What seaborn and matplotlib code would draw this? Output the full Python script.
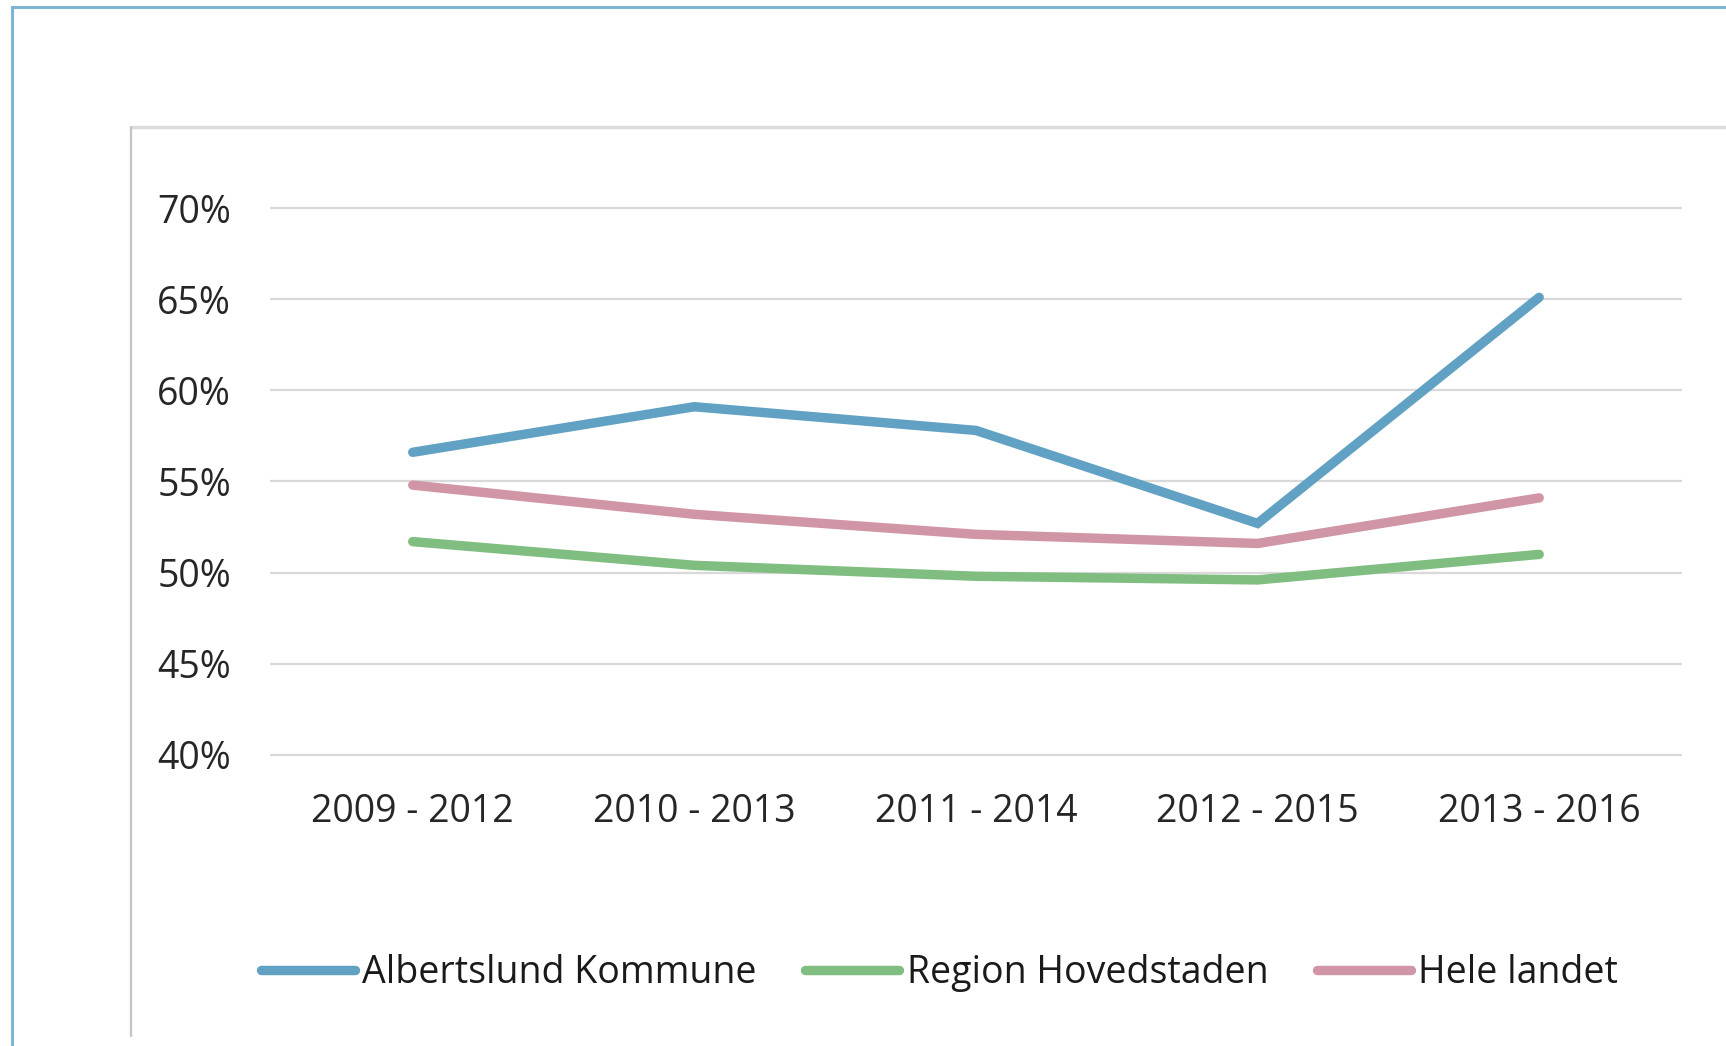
import pandas as pd
import seaborn as sns
import matplotlib.pyplot as plt
from matplotlib.patches import Rectangle
from matplotlib.ticker import PercentFormatter

# Data
perioder = ["2009 - 2012", "2010 - 2013", "2011 - 2014", "2012 - 2015", "2013 - 2016"]
albertslund = [56.6, 59.1, 57.8, 52.7, 65.1]
region_hovedstaden = [51.7, 50.4, 49.8, 49.6, 51.0]
hele_landet = [54.8, 53.2, 52.1, 51.6, 54.1]

serier = ["Albertslund Kommune", "Region Hovedstaden", "Hele landet"]
farver = ["#61a1c3", "#7fbd80", "#d096a6"]

df = pd.DataFrame({
    "Periode": perioder * 3,
    "Andel": albertslund + region_hovedstaden + hele_landet,
    "Serie": [s for s in serier for _ in perioder],
})

sns.set_theme(style="white")
plt.rcParams["font.family"] = ["Open Sans", "DejaVu Sans"]

fig = plt.figure(figsize=(17.26, 10.46), dpi=100)
ax = fig.add_axes([0.1564, 0.2748, 0.8181, 0.5298])

sns.lineplot(data=df, x="Periode", y="Andel", hue="Serie", palette=farver,
             linewidth=6.8, sort=False, ax=ax, legend=False)
for ln in ax.lines:
    ln.set_solid_capstyle("round")
    ln.set_solid_joinstyle("miter")

ax.set_ylim(39.8, 70.2)
ax.set_xlim(-0.507, 4.507)
ax.set_yticks([40, 45, 50, 55, 60, 65, 70])
ax.yaxis.set_major_formatter(PercentFormatter(decimals=0))
ax.grid(axis="y", color="#d9d9d9", linewidth=1.6)
ax.set_axisbelow(True)
for sp in ax.spines.values():
    sp.set_visible(False)
ax.set_xlabel("")
ax.set_ylabel("")
ax.tick_params(axis="y", length=0, pad=28, labelsize=27, labelcolor="#262626")
ax.tick_params(axis="x", length=0, pad=25, labelsize=27, labelcolor="#262626")

# Legend at the bottom
handles = [plt.Line2D([], [], color=c, linewidth=6.8, solid_capstyle="round") for c in farver]
fig.legend(handles, serier, loc="center", bbox_to_anchor=(0.5443, 0.0695), ncol=3,
           frameon=False, fontsize=27, handlelength=2.5, handletextpad=0.2,
           columnspacing=1.3, labelcolor="#1a1a1a")

# Outer blue frame and inner grey chart box
fig.patches.append(Rectangle((12 / 1726, -0.1), 1.2, 1 - 7 / 1046 + 0.1,
                             transform=fig.transFigure, fill=False,
                             edgecolor="#7db5d3", linewidth=2.2))
fig.add_artist(plt.Line2D([131 / 1726, 1.0], [1 - 127 / 1046] * 2,
                          transform=fig.transFigure, color="#dcdcdc", linewidth=2.5))
fig.add_artist(plt.Line2D([131 / 1726] * 2, [1 - 1036 / 1046, 1 - 127 / 1046],
                          transform=fig.transFigure, color="#c4c4c4", linewidth=1.6))

plt.savefig("out.png", dpi=100)
plt.close()
